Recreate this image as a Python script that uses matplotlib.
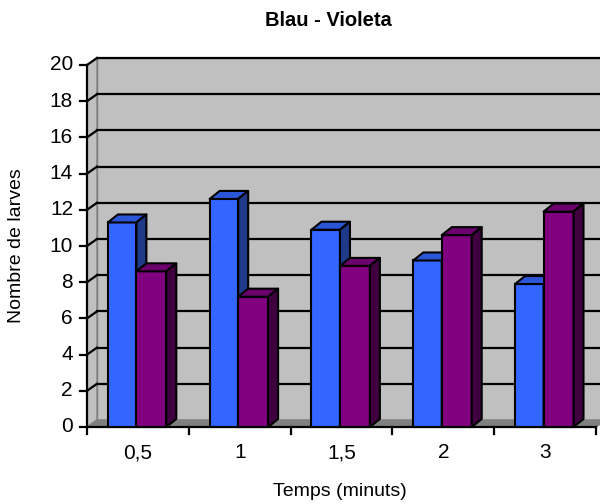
import numpy as np
import matplotlib
matplotlib.use('Agg')
import matplotlib.pyplot as plt
from matplotlib.patches import Polygon, Rectangle

plt.rcParams['font.family'] = ['Liberation Sans', 'DejaVu Sans']

# data
categories = ['0,5', '1', '1,5', '2', '3']
blau = [11.3, 12.6, 10.9, 9.2, 7.9]
violeta = [8.6, 7.2, 8.9, 10.6, 11.9]
yticks = list(range(0, 21, 2))

W, H = 600, 504
fig = plt.figure(figsize=(W / 100, H / 100), dpi=100)
ax = fig.add_axes([87 / W, 77 / H, 509 / W, 362 / H])
ax.set_xlim(0, len(categories))
ax.set_ylim(0, 20)
ax.axis('off')

# depth of the 3d effect, pixels -> data units
px_x = len(categories) / 509
px_y = 20 / 362
wdx, wdy = 10 * px_x, 7 * px_y   # walls
bdx, bdy = 10 * px_x, 8 * px_y   # bars

n = len(categories)
# back wall
ax.add_patch(Polygon([(wdx, wdy), (n + wdx, wdy), (n + wdx, 20 + wdy), (wdx, 20 + wdy)],
                     closed=True, fc='#C0C0C0', ec='#808080', lw=1, clip_on=False, zorder=1))
# side wall
ax.add_patch(Polygon([(0, 0), (wdx, wdy), (wdx, 20 + wdy), (0, 20)],
                     closed=True, fc='#C0C0C0', ec='#808080', lw=1, clip_on=False, zorder=1))
# floor
ax.add_patch(Polygon([(0, 0), (n, 0), (n + wdx, wdy), (wdx, wdy)],
                     closed=True, fc='#808080', ec='#808080', lw=1, clip_on=False, zorder=1))

# gridlines
for v in yticks[1:]:
    ax.plot([wdx, n + wdx], [v + wdy, v + wdy], color='black', lw=1.6, clip_on=False, zorder=2)
    ax.plot([0, wdx], [v, v + wdy], color='black', lw=1.6, clip_on=False, zorder=2)

# axes lines and ticks
ax.plot([0, 0], [0, 20], color='black', lw=1.6, clip_on=False, zorder=3)
ax.plot([0, n], [0, 0], color='black', lw=1.6, clip_on=False, zorder=3)
for v in yticks:
    ax.plot([-7 * px_x, 0], [v, v], color='black', lw=1.6, clip_on=False, zorder=3)
    ax.text(-14 * px_x, v, str(v), ha='right', va='center', fontsize=15)
for i in range(n + 1):
    ax.plot([i, i], [0, -7 * px_y], color='black', lw=1.6, clip_on=False, zorder=3)
for i, c in enumerate(categories):
    ax.text(i + 0.5, -26 * px_y, c, ha='center', va='center', fontsize=15)


def bar3d(x0, w, h, front, side, top, z):
    ax.add_patch(Rectangle((x0, 0), w, h, fc=front, ec='black', lw=1.5, zorder=z, clip_on=False))
    ax.add_patch(Polygon([(x0, h), (x0 + bdx, h + bdy), (x0 + w + bdx, h + bdy), (x0 + w, h)],
                         closed=True, fc=top, ec='black', lw=1.5, zorder=z, clip_on=False, joinstyle='round'))
    ax.add_patch(Polygon([(x0 + w, 0), (x0 + w + bdx, bdy), (x0 + w + bdx, h + bdy), (x0 + w, h)],
                         closed=True, fc=side, ec='black', lw=1.5, zorder=z, clip_on=False, joinstyle='round'))


bw = 0.28
for i in range(n):
    x0 = i + 0.205
    bar3d(x0, bw, blau[i], '#3366FF', '#1F3A88', '#2B56D8', 4 + 2 * i)
    bar3d(x0 + bw, bw * 1.05, violeta[i], '#800080', '#400040', '#6C006C', 5 + 2 * i)

fig.text(328 / W, 1 - 20 / H, 'Blau - Violeta', ha='center', va='center', fontsize=14.5, fontweight='bold')
fig.text(17 / W, 1 - 246 / H, 'Nombre de larves', ha='center', va='center', rotation=90, fontsize=14)
fig.text(340 / W, 1 - 491 / H, 'Temps (minuts)', ha='center', va='center', fontsize=14)

fig.savefig('out.png', dpi=100)
